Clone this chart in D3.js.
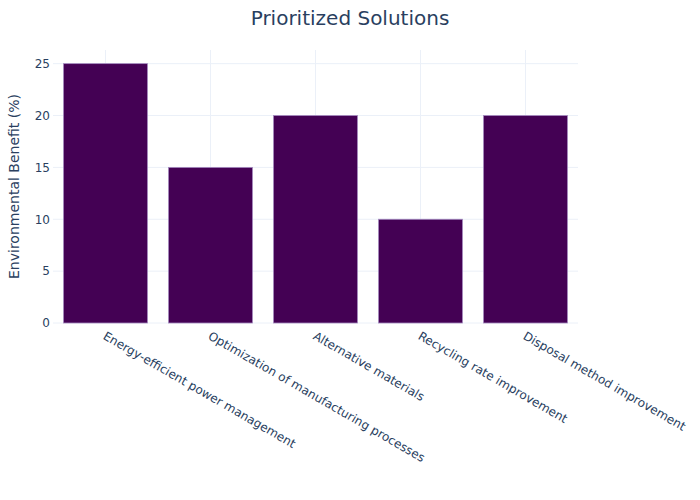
<!DOCTYPE html>
<html><head><meta charset="utf-8">
<script src="https://cdn.jsdelivr.net/npm/d3@7"></script>
<style>body{margin:0;background:#fff;} svg{display:block;}</style>
</head><body>
<svg id="c" width="700" height="500"></svg>
<script>
const categories = ["Energy-efficient power management","Optimization of manufacturing processes","Alternative materials","Recycling rate improvement","Disposal method improvement"];
const values = [25, 15, 20, 10, 20];
const yTicks = [0, 5, 10, 15, 20, 25];
const title = "Prioritized Solutions";
const yTitle = "Environmental Benefit (%)";

const W = 700, H = 500;
const m = {l: 53, r: 122, t: 50, b: 177};
const font = "'DejaVu Sans', Verdana, sans-serif";
const txt = "#2a3f5f";
const svg = d3.select("#c");

const x = d3.scaleBand().domain(categories).range([m.l, W - m.r]).paddingInner(0.2).paddingOuter(0.1);
const y = d3.scaleLinear().domain([0, 25 * 1.0526]).range([H - m.b, m.t]);

// gridlines
const g = svg.append("g");
g.selectAll("line.h").data(yTicks).join("line")
  .attr("x1", m.l).attr("x2", W - m.r)
  .attr("y1", d => y(d)).attr("y2", d => y(d))
  .attr("stroke", "#ebf0f8").attr("stroke-width", 1);
g.selectAll("line.v").data(categories).join("line")
  .attr("x1", d => x(d) + x.bandwidth() / 2).attr("x2", d => x(d) + x.bandwidth() / 2)
  .attr("y1", m.t).attr("y2", H - m.b)
  .attr("stroke", "#ebf0f8").attr("stroke-width", 1);

// bars
svg.append("g").selectAll("rect").data(values).join("rect")
  .attr("x", (d, i) => x(categories[i]))
  .attr("y", d => y(d))
  .attr("width", x.bandwidth())
  .attr("height", d => y(0) - y(d))
  .attr("fill", "#440154")
  .attr("stroke", "#a58bbf").attr("stroke-width", 0.8);

// y axis
const ya = svg.append("g").attr("transform", `translate(${m.l},0)`)
  .call(d3.axisLeft(y).tickValues(yTicks).tickSize(0).tickPadding(3));
ya.select(".domain").remove();
ya.selectAll("text").attr("font-family", font).attr("font-size", 12).attr("fill", txt);

// x axis labels
svg.append("g").selectAll("text").data(categories).join("text")
  .attr("transform", d => `translate(${x(d) + x.bandwidth() / 2 + 1},${H - m.b + 8}) rotate(30)`)
  .attr("dy", "0.71em")
  .attr("text-anchor", "start")
  .attr("font-family", font).attr("font-size", 12).attr("fill", txt)
  .text(d => d);

// title
svg.append("text").attr("x", 350).attr("y", 25).attr("text-anchor", "middle")
  .attr("font-family", font).attr("font-size", 20).attr("fill", txt).text(title);

// y title
svg.append("text").attr("transform", `translate(19,${(m.t + H - m.b) / 2}) rotate(-90)`)
  .attr("text-anchor", "middle")
  .attr("font-family", font).attr("font-size", 14).attr("fill", txt).text(yTitle);
</script>
</body></html>
